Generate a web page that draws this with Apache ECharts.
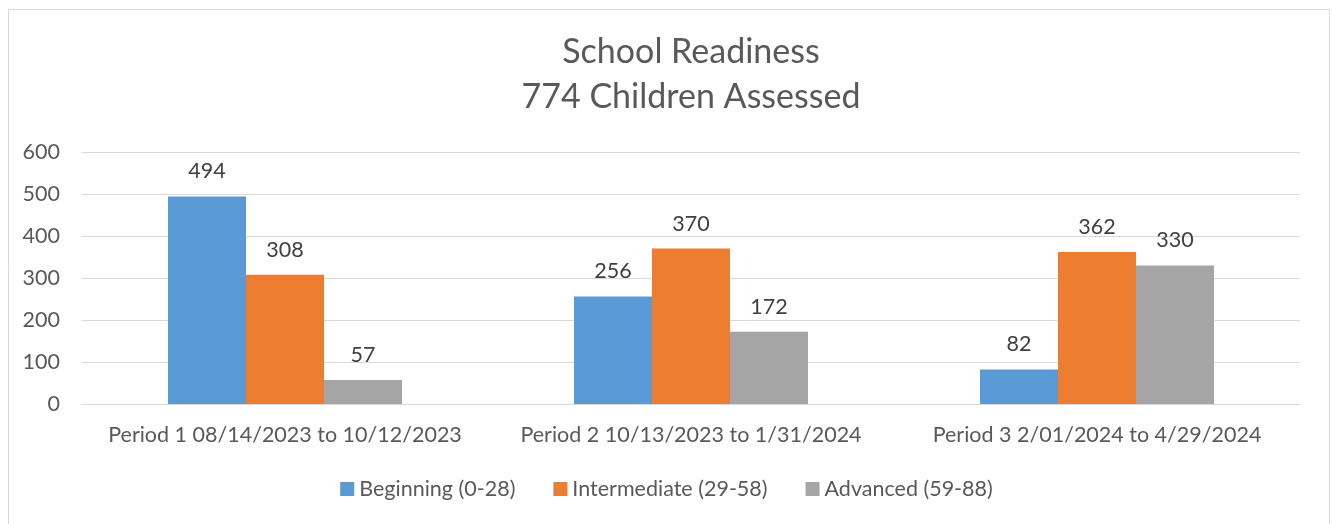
<!DOCTYPE html>
<html>
<head>
<meta charset="utf-8">
<script src="https://cdn.jsdelivr.net/npm/echarts@6/dist/echarts.min.js"></script>
<style>
  html, body { margin: 0; padding: 0; background: #fff; }
  #chart { width: 1333px; height: 524px; }
</style>
</head>
<body>
<div id="chart"></div>
<script>
  const periods = [
    'Period 1 08/14/2023 to 10/12/2023',
    'Period 2 10/13/2023 to 1/31/2024',
    'Period 3 2/01/2024 to 4/29/2024'
  ];
  const beginning = [494, 256, 82];
  const intermediate = [308, 370, 362];
  const advanced = [57, 172, 330];
  const seriesNames = ['Beginning (0-28)', 'Intermediate (29-58)', 'Advanced (59-88)'];

  const font = 'Lato, "Open Sans", sans-serif';
  const chart = echarts.init(document.getElementById('chart'));

  const makeSeries = (name, data, color) => ({
    name: name,
    type: 'bar',
    data: data,
    barWidth: 78,
    barGap: '0%',
    itemStyle: { color: color },
    label: {
      show: true,
      position: 'top',
      distance: 14,
      fontSize: 21.5,
      color: '#404040',
      fontFamily: font
    }
  });

  chart.setOption({
    animation: false,
    graphic: [{
      type: 'rect',
      left: 6,
      top: 7,
      shape: { width: 1321, height: 540 },
      style: { fill: 'none', stroke: '#d9d9d9', lineWidth: 1 },
      silent: true
    }],
    title: {
      text: 'School Readiness\n774 Children Assessed',
      left: 686,
      textAlign: 'center',
      top: 25,
      textStyle: {
        fontSize: 34,
        fontWeight: 'normal',
        color: '#595959',
        lineHeight: 45,
        fontFamily: font
      }
    },
    legend: {
      data: seriesNames,
      bottom: 19,
      left: 'center',
      itemWidth: 14,
      itemHeight: 14,
      itemGap: 38,
      icon: 'rect',
      textStyle: { fontSize: 21.5, color: '#595959', fontFamily: font }
    },
    grid: { left: 82, right: 33, top: 152, bottom: 120, containLabel: false },
    xAxis: {
      type: 'category',
      data: periods,
      axisLine: { lineStyle: { color: '#d9d9d9' } },
      axisTick: { show: false },
      axisLabel: { interval: 0, fontSize: 21.5, color: '#595959', margin: 20, fontFamily: font }
    },
    yAxis: {
      type: 'value',
      min: 0,
      max: 600,
      interval: 100,
      axisLine: { show: false },
      axisTick: { show: false },
      splitLine: { lineStyle: { color: '#d9d9d9' } },
      axisLabel: { fontSize: 21.5, color: '#595959', margin: 22, fontFamily: font }
    },
    series: [
      makeSeries(seriesNames[0], beginning, '#5b9bd5'),
      makeSeries(seriesNames[1], intermediate, '#ed7d31'),
      makeSeries(seriesNames[2], advanced, '#a5a5a5')
    ]
  });
</script>
</body>
</html>
